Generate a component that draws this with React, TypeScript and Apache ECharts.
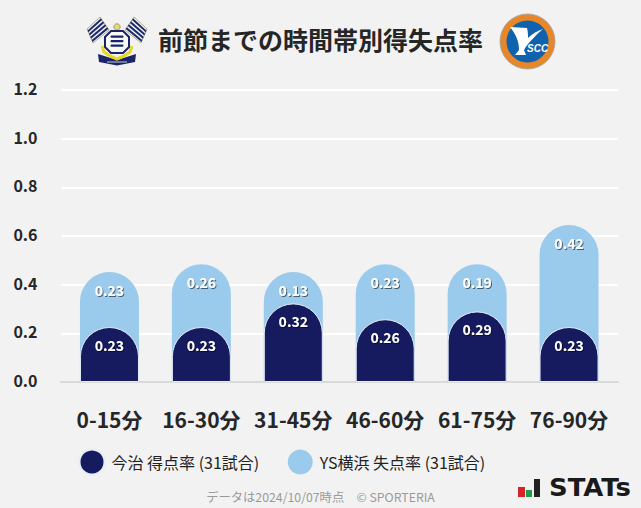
import React, { useEffect, useRef } from "react";
import * as echarts from "echarts";

const categories = ["0-15分", "16-30分", "31-45分", "46-60分", "61-75分", "76-90分"];
const imabariScored = [0.226, 0.226, 0.323, 0.258, 0.29, 0.226];
const yokohamaConceded = [0.226, 0.258, 0.129, 0.226, 0.194, 0.419];
const yTicks = [0, 0.2, 0.4, 0.6, 0.8, 1.0, 1.2];
const titleText = "前節までの時間帯別得失点率";
const homeName = "今治 得点率 (31試合)";
const awayName = "YS横浜 失点率 (31試合)";
const footnote = "データは2024/10/07時点　© SPORTERIA";

const FONT = "'Noto Sans CJK JP', 'Noto Sans', sans-serif";
const NAVY = "#161a5e";
const SKY = "#9bcbec";

echarts.graphic.registerShape(
  "yMark",
  echarts.graphic.extendPath(
    "M0 0 L17 1 C18 5 18 8 18 11 C22 7 27 4 33 2 C26 8 18 16 14 23 L16 28 L5 28 L9 23 C9 15 6 7 0 0 Z",
    {}
  )
);

type P = [number, number];
const mix = (a: P, b: P, t: number): P => [a[0] + (b[0] - a[0]) * t, a[1] + (b[1] - a[1]) * t];
const flag = (a: P, b: P, c: P, d: P) => ({
  type: "group",
  children: [
    { type: "polygon", shape: { points: [a, b, c, d] }, style: { fill: "#f6f6f0", stroke: "#8f8f60", lineWidth: 0.7 } },
    ...[0.1, 0.33, 0.56, 0.79].map((t) => ({
      type: "polygon",
      shape: { points: [mix(d, c, t), mix(a, b, t), mix(a, b, t + 0.13), mix(d, c, t + 0.13)] },
      style: { fill: "#1e2a6e" },
    })),
  ],
});

const homeCrest = {
  type: "group",
  children: [
    flag([100, 17], [109, 30], [93, 43], [87, 29]),
    flag([134, 17], [125, 30], [141, 43], [147, 29]),
    { type: "circle", shape: { cx: 117, cy: 27, r: 3.2 }, style: { fill: "#e4d87a", stroke: "#8d8a40", lineWidth: 0.8 } },
    { type: "polygon", shape: { points: [[98, 54], [117, 60], [136, 54], [135, 62], [117, 65.5], [99, 62]] }, style: { fill: "#1b2468" } },
    { type: "polyline", shape: { points: [[102, 46], [104, 52], [110, 56], [117, 59], [124, 56], [130, 52], [132, 46]] }, style: { fill: "none", stroke: "#e8d820", lineWidth: 3 } },
    { type: "polygon", shape: { points: [[111, 31], [123, 31], [129, 37], [129, 47], [123, 53], [111, 53], [105, 47], [105, 37]] }, style: { fill: "#fafaf5", stroke: "#1b2468", lineWidth: 2 } },
    ...[35.5, 40, 44.5].map((y) => ({ type: "rect", shape: { x: 110.5, y, width: 13, height: 2.2, r: 1 }, style: { fill: "#1b2468" } })),
    { type: "rect", shape: { x: 107, y: 61.5, width: 20, height: 1 }, style: { fill: "#c9cde0" } },
  ],
};

const awayCrest = {
  type: "group",
  children: [
    { type: "circle", shape: { cx: 527.5, cy: 41.5, r: 27.5 }, style: { fill: "#e8872a", stroke: "#9fa5a8", lineWidth: 0.8 } },
    { type: "circle", shape: { cx: 527.5, cy: 41.5, r: 21 }, style: { fill: "#0f62ae" } },
    { type: "yMark", x: 510, y: 27, style: { fill: "#ffffff" } },
    { type: "text", x: 527, y: 43, style: { text: "SCC", fontFamily: "'Liberation Sans', sans-serif", fontSize: 10, fontStyle: "italic", fontWeight: 700, fill: "#ffffff" } },
  ],
};

const statsLogo = {
  type: "group",
  children: [
    { type: "rect", shape: { x: 518, y: 487, width: 7, height: 10 }, style: { fill: "#d8232a" } },
    { type: "rect", shape: { x: 526, y: 490, width: 6, height: 7 }, style: { fill: "#1f9d4d" } },
    { type: "rect", shape: { x: 534, y: 479, width: 6, height: 18 }, style: { fill: "#222222" } },
    { type: "text", x: 549, y: 476, scaleX: 1.08, style: { text: "STATs", fontFamily: "'DejaVu Sans', sans-serif", fontWeight: 700, fontSize: 24, fill: "#1a1a1a" } },
  ],
};

export default function App() {
  const ref = useRef<HTMLDivElement>(null);
  useEffect(() => {
    document.body.style.margin = "0";
    const chart = echarts.init(ref.current!, null, { renderer: "svg" });
    const stackTotal = imabariScored.map((v, i) => +(v + yokohamaConceded[i]).toFixed(3));
    const labelBase = {
      show: true,
      position: "insideTop" as const,
      distance: 11,
      color: "#ffffff",
      fontFamily: FONT,
      fontWeight: 700,
      fontSize: 14,
      textShadowColor: "rgba(0,0,0,0.55)",
      textShadowBlur: 1,
      textShadowOffsetX: 1,
      textShadowOffsetY: 1,
    };
    chart.setOption({
      animation: false,
      backgroundColor: "#f2f2f2",
      textStyle: { fontFamily: FONT },
      title: [
        {
          text: titleText,
          left: 315.5,
          top: 21,
          textAlign: "center",
          textStyle: { fontFamily: FONT, fontWeight: 700, fontSize: 25, color: "#262626" },
        },
        {
          text: footnote,
          left: 315.5,
          top: 486,
          textAlign: "center",
          textStyle: { fontFamily: FONT, fontWeight: 400, fontSize: 12.3, color: "#9a9a9a" },
        },
      ],
      legend: {
        left: 78.5,
        top: 448.5,
        padding: 0,
        icon: "circle",
        itemWidth: 25,
        itemHeight: 25,
        itemGap: 28.5,
        selectedMode: false,
        data: [homeName, awayName],
        textStyle: { fontFamily: FONT, fontSize: 16, color: "#222222", padding: [0, 0, 0, 2] },
      },
      grid: [
        { left: 63.5, width: 551.5, top: 90, height: 292 },
        { left: 61, width: 557, top: 90, height: 292 },
        { left: 63.5, width: 551.5, top: 88, height: 292 },
      ],
      xAxis: [
        {
          type: "category",
          gridIndex: 0,
          data: categories,
          axisTick: { show: false },
          axisLine: { show: false },
          axisLabel: { interval: 0, color: "#262626", fontFamily: FONT, fontWeight: 700, fontSize: 21, margin: 26 },
        },
        {
          type: "category",
          gridIndex: 1,
          data: categories,
          axisTick: { show: false },
          axisLabel: { show: false },
          axisLine: { lineStyle: { color: "#d9d9d9", width: 2 } },
        },
        {
          type: "category",
          gridIndex: 2,
          data: categories,
          axisTick: { show: false },
          axisLabel: { show: false },
          axisLine: { show: false },
        },
      ],
      yAxis: [
        {
          type: "value",
          gridIndex: 0,
          min: 0,
          max: 1.2,
          interval: 0.2,
          axisLabel: { show: false },
          splitLine: { show: false },
          axisLine: { show: false },
          axisTick: { show: false },
        },
        {
          type: "value",
          gridIndex: 1,
          min: 0,
          max: 1.2,
          interval: 0.2,
          axisLabel: { show: false },
          splitLine: { lineStyle: { color: "#ffffff", width: 2 } },
          axisLine: { show: false },
          axisTick: { show: false },
        },
        {
          type: "value",
          gridIndex: 2,
          min: 0,
          max: 1.2,
          interval: 0.2,
          axisLabel: {
            color: "#262626",
            fontFamily: FONT,
            fontWeight: 700,
            fontSize: 16,
            margin: 26,
            formatter: (v: number) => yTicks.find((t) => Math.abs(t - v) < 1e-6)!.toFixed(1),
          },
          splitLine: { show: false },
          axisLine: { show: false },
          axisTick: { show: false },
        },
      ],
      series: [
        {
          name: awayName,
          type: "bar",
          barWidth: 59,
          barGap: "-100%",
          z: 2,
          data: stackTotal,
          itemStyle: { color: SKY, borderRadius: [30, 30, 0, 0] },
          label: { ...labelBase, formatter: (p: any) => yokohamaConceded[p.dataIndex].toFixed(2) },
        },
        {
          name: homeName,
          type: "bar",
          barWidth: 59,
          z: 3,
          data: imabariScored,
          itemStyle: { color: NAVY, borderRadius: [30, 30, 0, 0], borderColor: "#e6eef6", borderWidth: 1 },
          label: { ...labelBase, formatter: (p: any) => imabariScored[p.dataIndex].toFixed(2) },
        },
      ],
      graphic: { elements: [homeCrest, awayCrest, statsLogo] },
    });
    return () => chart.dispose();
  }, []);
  return <div ref={ref} style={{ width: 641, height: 508 }} />;
}
